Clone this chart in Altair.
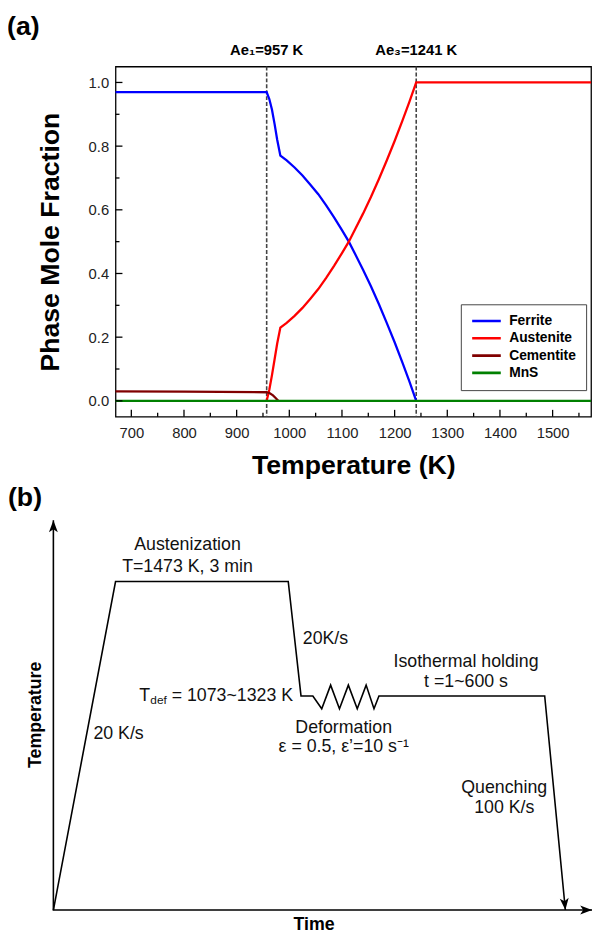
import altair as alt
import pandas as pd

# ---------------- Panel (a): phase mole fractions ----------------
ferrite_T = [670, 957, 962, 967, 972, 977, 983, 995, 1010, 1025, 1040, 1055, 1070, 1085, 1100, 1113,
             1125, 1140, 1155, 1170, 1185, 1200, 1215, 1228, 1241]
ferrite_f = [0.97, 0.97, 0.948, 0.915, 0.87, 0.82, 0.77, 0.755, 0.733, 0.708, 0.679, 0.649, 0.614, 0.576,
             0.536, 0.50, 0.461, 0.412, 0.360, 0.304, 0.245, 0.184, 0.119, 0.061, 0.0]

austenite_T = [957, 962, 967, 972, 977, 983, 995, 1010, 1025, 1040, 1055, 1070, 1085, 1100, 1113,
               1125, 1140, 1155, 1170, 1185, 1200, 1215, 1228, 1241, 1573]
austenite_f = [0.0, 0.035, 0.08, 0.13, 0.18, 0.23, 0.245, 0.267, 0.292, 0.321, 0.351, 0.386, 0.424,
               0.464, 0.50, 0.539, 0.588, 0.640, 0.696, 0.755, 0.816, 0.881, 0.939, 1.0, 1.0]

cementite_T = [670, 800, 957, 963, 969, 974, 979]
cementite_f = [0.030, 0.029, 0.027, 0.024, 0.017, 0.009, 0.0]

mns_T = [670, 1573]
mns_f = [0.0, 0.0]

phases = ["Ferrite", "Austenite", "Cementite", "MnS"]
phase_colors = ["#0000ff", "#ff0000", "#800000", "#008000"]

ae_T = [957, 1241]
ae_labels = ["Ae\u2081=957 K", "Ae\u2083=1241 K"]

x_major = [700, 800, 900, 1000, 1100, 1200, 1300, 1400, 1500]
x_minor = [750, 850, 950, 1050, 1150, 1250, 1350, 1450, 1550]
y_major = [0.0, 0.2, 0.4, 0.6, 0.8, 1.0]
y_minor = [0.1, 0.3, 0.5, 0.7, 0.9]

# ---------------- Panel (b): heat-treatment schematic (arbitrary units) ----------------
path_t = [0, 11.54, 43.6, 45.97, 48.17, 49.82, 51.47, 53.11, 54.76, 56.41, 58.06, 59.52, 60.44, 91.21, 95.05]
path_temp = [0, 84.3, 84.3, 54.94, 54.94, 51.65, 57.72, 51.65, 57.72, 51.65, 57.72, 51.65, 54.94, 54.94, 0]

axes_t = [0, 0, 100]
axes_temp = [100, 0, 0]

arrow_t = [0, 100, 95.05]
arrow_temp = [100, 0, 0]
arrow_angle = [0, 90, 174.5]

center_texts = ["Austenization", "T=1473 K, 3 min", "20 K/s", "Deformation",
                "\u03b5 = 0.5, \u03b5\u2019=10 s\u207b\u00b9", "Isothermal holding",
                "t =1~600 s", "Quenching", "100 K/s"]
center_t = [24.9, 24.9, 12.1, 53.9, 53.9, 76.6, 76.6, 83.7, 83.7]
center_temp = [93.7, 88.1, 45.1, 46.8, 41.8, 63.7, 58.6, 31.2, 26.2]

W, H = 482, 355
FONT = "Liberation Sans"

# ---------------- build panel (a) ----------------
rows = []
for name, Ts, fs in [("Ferrite", ferrite_T, ferrite_f), ("Austenite", austenite_T, austenite_f),
                     ("Cementite", cementite_T, cementite_f), ("MnS", mns_T, mns_f)]:
    for i, (t, f) in enumerate(zip(Ts, fs)):
        rows.append({"phase": name, "T": t, "frac": f, "idx": i})
df_lines = pd.DataFrame(rows)

xs = alt.Scale(domain=[670, 1573], nice=False, zero=False)
ys = alt.Scale(domain=[-0.05, 1.05], nice=False, zero=False)

x_axis = alt.Axis(values=x_major, format="d", ticks=False, domain=False, grid=False,
                  labelFont=FONT, labelFontSize=15, labelColor="#222", labelPadding=9,
                  labelOverlap=False, labelFlush=False,
                  title="Temperature (K)", titleFont=FONT, titleFontSize=27,
                  titleFontWeight="bold", titleColor="black", titlePadding=13)
y_axis = alt.Axis(values=y_major, format=".1f", ticks=False, domain=False, grid=False,
                  labelFont=FONT, labelFontSize=15, labelColor="#222", labelPadding=7,
                  labelOverlap=False,
                  title="Phase Mole Fraction", titleFont=FONT, titleFontSize=27,
                  titleFontWeight="bold", titleColor="black", titlePadding=24)

X = alt.X("T:Q", scale=xs, axis=x_axis)
Y = alt.Y("frac:Q", scale=ys, axis=y_axis)

ae_df = pd.DataFrame({"T": ae_T, "label": ae_labels})

dashed = alt.Chart(ae_df).mark_rule(color="#444", strokeDash=[4, 2], strokeWidth=1.6).encode(x=X)

lines = alt.Chart(df_lines).mark_line(strokeWidth=2.3).encode(
    x=X, y=Y,
    color=alt.Color("phase:N", sort=phases,
                    scale=alt.Scale(domain=phases, range=phase_colors),
                    legend=alt.Legend(orient="none", legendX=350, legendY=241, title=None,
                                      labelFont=FONT, labelFontSize=14, labelFontWeight="bold",
                                      labelColor="black", symbolType="stroke", symbolSize=841,
                                      symbolStrokeWidth=2.6, clipHeight=14, rowPadding=3.5,
                                      labelOffset=7, padding=10, strokeColor="#444",
                                      fillColor="white", cornerRadius=0)),
    order="idx:Q",
)

xt_major = alt.Chart(pd.DataFrame({"T": x_major})).mark_rule(color="black", strokeWidth=1.3).encode(
    x=X, y=alt.value(H), y2=alt.value(H - 7))
xt_minor = alt.Chart(pd.DataFrame({"T": x_minor})).mark_rule(color="black", strokeWidth=1.3).encode(
    x=X, y=alt.value(H), y2=alt.value(H - 4))
yt_major = alt.Chart(pd.DataFrame({"frac": y_major})).mark_rule(color="black", strokeWidth=1.3).encode(
    y=Y, x=alt.value(0), x2=alt.value(7))
yt_minor = alt.Chart(pd.DataFrame({"frac": y_minor})).mark_rule(color="black", strokeWidth=1.3).encode(
    y=Y, x=alt.value(0), x2=alt.value(4))

ae_text = alt.Chart(ae_df).mark_text(font=FONT, fontSize=15, fontWeight="bold", color="black",
                                     baseline="middle").encode(x=X, y=alt.value(-17), text="label:N")

label_a = alt.Chart(pd.DataFrame({"l": ["(a)"]})).mark_text(
    font=FONT, fontSize=27, fontWeight="bold", align="left", baseline="alphabetic", color="black"
).encode(x=alt.value(-110), y=alt.value(-31.5), text="l:N")

panel_a = alt.layer(dashed, lines, xt_major, xt_minor, yt_major, yt_minor, ae_text, label_a)

# ---------------- build panel (b) ----------------
bxs = alt.Scale(domain=[0, 100], range=[-63, 483], nice=False, zero=False)
bys = alt.Scale(domain=[0, 100], range=[855, 460], nice=False, zero=False)
BX = alt.X("t:Q", scale=bxs, axis=None)
BY = alt.Y("temp:Q", scale=bys, axis=None)

df_path = pd.DataFrame({"t": path_t, "temp": path_temp, "idx": range(len(path_t))})
df_axes = pd.DataFrame({"t": axes_t, "temp": axes_temp, "idx": range(len(axes_t))})
df_arrows = pd.DataFrame({"t": arrow_t, "temp": arrow_temp, "ang": arrow_angle})
df_center = pd.DataFrame({"t": center_t, "temp": center_temp, "txt": center_texts})

path_line = alt.Chart(df_path).mark_line(color="black", strokeWidth=1.6).encode(x=BX, y=BY, order="idx:Q")
axes_line = alt.Chart(df_axes).mark_line(color="black", strokeWidth=1.6).encode(x=BX, y=BY, order="idx:Q")

arrow_shape = "M0,0 L-0.6,1.6 L0,1.2 L0.6,1.6 Z"
arrows = alt.Chart(df_arrows).mark_point(shape=arrow_shape, filled=True, size=225, color="black",
                                         opacity=1, strokeWidth=0).encode(
    x=BX, y=BY, angle=alt.Angle("ang:Q", scale=None))

center_txt = alt.Chart(df_center).mark_text(font=FONT, fontSize=18, color="#111",
                                            align="center", baseline="middle").encode(
    x=BX, y=BY, text="txt:N")

df_left = pd.DataFrame({"t": [46.3], "temp": [69.6], "txt": ["20K/s"]})
left_txt = alt.Chart(df_left).mark_text(font=FONT, fontSize=18, color="#111",
                                        align="left", baseline="middle").encode(
    x=BX, y=BY, text="txt:N")

df_tdef = pd.DataFrame({"t": [44.5], "temp": [54.94]})
tdef_main = alt.Chart(df_tdef).mark_text(font=FONT, fontSize=18, color="#111", align="right",
                                         baseline="middle", text=" = 1073~1323 K").encode(x=BX, y=BY)
tdef_sub = alt.Chart(df_tdef).mark_text(font=FONT, fontSize=12, color="#111", align="right",
                                        baseline="middle", dx=-128, dy=4, text="def").encode(x=BX, y=BY)
tdef_T = alt.Chart(df_tdef).mark_text(font=FONT, fontSize=18, color="#111", align="right",
                                      baseline="middle", dx=-145, text="T").encode(x=BX, y=BY)

df_time = pd.DataFrame({"t": [48.4], "temp": [-3.9], "txt": ["Time"]})
time_txt = alt.Chart(df_time).mark_text(font=FONT, fontSize=18, fontWeight="bold", color="black",
                                        baseline="middle").encode(x=BX, y=BY, text="txt:N")
df_temp = pd.DataFrame({"t": [-3.3], "temp": [50.1], "txt": ["Temperature"]})
temp_txt = alt.Chart(df_temp).mark_text(font=FONT, fontSize=18, fontWeight="bold", color="black",
                                        baseline="middle", angle=270).encode(x=BX, y=BY, text="txt:N")

label_b = alt.Chart(pd.DataFrame({"l": ["(b)"]})).mark_text(
    font=FONT, fontSize=27, fontWeight="bold", align="left", baseline="alphabetic", color="black"
).encode(x=alt.value(-109), y=alt.value(445), text="l:N")

panel_b = alt.layer(axes_line, path_line, arrows, center_txt, left_txt, tdef_main, tdef_sub, tdef_T,
                    time_txt, temp_txt, label_b)

chart = alt.layer(panel_a, panel_b).resolve_scale(
    x="independent", y="independent", color="independent"
).properties(
    width=W, height=H,
    autosize=alt.AutoSizeParams(type="none"),
    padding={"left": 109, "top": 53, "right": 4, "bottom": 522},
    background="white",
).configure_view(stroke="black", strokeWidth=1.3)

chart.save("out.html", embed_options={"renderer": "svg", "actions": False})
